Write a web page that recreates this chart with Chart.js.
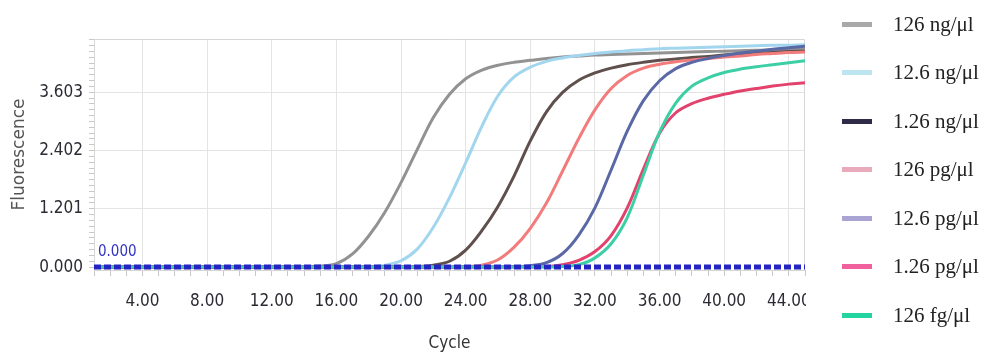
<!DOCTYPE html>
<html><head><meta charset="utf-8">
<script src="https://cdn.jsdelivr.net/npm/chart.js@4.4.1/dist/chart.umd.min.js"></script>
<style>
html,body{margin:0;padding:0;background:#fff;width:994px;height:354px;overflow:hidden;}
#wrap{position:absolute;left:0;top:0;width:806px;height:354px;overflow:hidden;}
#legend{position:absolute;left:0;top:0;width:994px;height:354px;}
.item{position:absolute;left:842px;height:26px;display:flex;align-items:center;font-family:"Liberation Serif","Times New Roman",serif;font-size:21px;color:#222;white-space:nowrap;}
.sw{width:30px;height:5px;margin-right:21px;}
</style></head><body>
<div id="wrap"><canvas id="c" width="830" height="354"></canvas></div>
<div id="legend"></div>
<script>
const cycles = [1,2,3,4,5,6,7,8,9,10,11,12,13,14,15,16,17,18,19,20,21,22,23,24,25,26,27,28,29,30,31,32,33,34,35,36,37,38,39,40,41,42,43,44,45];
const xLabelCycles = [4,8,12,16,20,24,28,32,36,40,44];
const yTickValues = [0, 1.201, 2.402, 3.603];
const thresholdLevel = 0.000;

const seriesNames = ["126 ng/μl","12.6 ng/μl","1.26 ng/μl","126 pg/μl","12.6 pg/μl","1.26 pg/μl","126 fg/μl"];

const s126ng = [0,0,0,0,0,0,0,0,0,0,0,0,0,0.01,0.02,0.07,0.27,0.64,1.13,1.74,2.42,3.08,3.56,3.88,4.06,4.16,4.22,4.26,4.30,4.33,4.35,4.37,4.38,4.39,4.40,4.41,4.42,4.43,4.44,4.45,4.46,4.47,4.47,4.48,4.49];
const s12_6ng = [0,0,0,0,0,0,0,0,0,0,0,0,0,0,0,0,0,0.01,0.04,0.13,0.37,0.82,1.43,2.15,2.90,3.53,3.92,4.12,4.24,4.31,4.36,4.40,4.43,4.46,4.48,4.50,4.51,4.52,4.53,4.54,4.55,4.56,4.57,4.57,4.58];
const s1_26ng = [0,0,0,0,0,0,0,0,0,0,0,0,0,0,0,0,0,0,0,0,0.01,0.04,0.12,0.35,0.75,1.25,1.88,2.60,3.20,3.60,3.85,4.00,4.10,4.17,4.22,4.26,4.29,4.32,4.34,4.37,4.39,4.41,4.42,4.44,4.45];
const s126pg = [0,0,0,0,0,0,0,0,0,0,0,0,0,0,0,0,0,0,0,0,0,0,0,0.01,0.04,0.15,0.41,0.80,1.32,1.98,2.65,3.24,3.68,3.95,4.10,4.18,4.23,4.27,4.30,4.33,4.35,4.38,4.40,4.42,4.43];
const s12_6pg = [0,0,0,0,0,0,0,0,0,0,0,0,0,0,0,0,0,0,0,0,0,0,0,0,0,0,0.01,0.03,0.09,0.28,0.66,1.22,2.00,2.80,3.43,3.84,4.09,4.22,4.30,4.36,4.41,4.45,4.49,4.52,4.55];
const s1_26pg = [0,0,0,0,0,0,0,0,0,0,0,0,0,0,0,0,0,0,0,0,0,0,0,0,0,0,0,0,0.01,0.05,0.14,0.32,0.65,1.22,2.02,2.76,3.18,3.37,3.48,3.56,3.63,3.68,3.73,3.77,3.80];
const s126fg = [0,0,0,0,0,0,0,0,0,0,0,0,0,0,0,0,0,0,0,0,0,0,0,0,0,0,0,0,0,0.01,0.05,0.19,0.48,1.02,1.90,2.78,3.38,3.73,3.90,4.01,4.08,4.13,4.17,4.21,4.25];

const seriesValues = [s126ng, s12_6ng, s1_26ng, s126pg, s12_6pg, s1_26pg, s126fg];
const curveColors = ["#929292","#a2d6ee","#5f504d","#f27c7c","#5a69a6","#e2426c","#3ccfa6"];
const legendColors = ["#a9a9a9","#bde5ef","#2f2a48","#e9abbb","#a9a4d4","#f0609c","#22d4a0"];

// legend (HTML)
const lg = document.getElementById('legend');
seriesNames.forEach((n,i)=>{
  const d = document.createElement('div');
  d.className='item';
  d.style.top = (24 + 48.5*i - 13) + 'px';
  const sw = document.createElement('span'); sw.className='sw'; sw.style.background = legendColors[i];
  const t = document.createElement('span'); t.textContent = n;
  d.appendChild(sw); d.appendChild(t); lg.appendChild(d);
});

const tickFont = "'Liberation Sans Narrow','DejaVu Sans Condensed','Roboto Condensed','DejaVu Sans',sans-serif";

const datasets = seriesValues.map((vals,i)=>({
  label: seriesNames[i],
  data: cycles.map((c,j)=>({x:c, y:vals[j]})),
  borderColor: curveColors[i],
  backgroundColor: curveColors[i],
  borderWidth: 3,
  pointRadius: 0,
  fill: false,
  tension: 0.35,
  order: 10 - i
}));
datasets.push({
  label: 'threshold',
  data: cycles.map(c=>({x:c, y:thresholdLevel})),
  borderColor: '#2424c4',
  borderWidth: 5,
  borderDash: [7,3],
  pointRadius: 0,
  fill: false,
  tension: 0,
  order: 0
});

const isMajorY = v => yTickValues.some(t => Math.abs(t - v) < 1e-6);

const framePlugin = {
  id: 'frame',
  beforeDatasetsDraw(chart){
    const {ctx, chartArea:a} = chart;
    ctx.save();
    ctx.strokeStyle = '#d6d6d6';
    ctx.lineWidth = 1;
    ctx.beginPath();
    ctx.moveTo(a.left, a.top+0.5); ctx.lineTo(a.right-0.5, a.top+0.5); ctx.lineTo(a.right-0.5, a.bottom);
    ctx.stroke();
    ctx.restore();
  },
  afterDatasetsDraw(chart){
    const {ctx, chartArea:a, scales} = chart;
    const y = scales.y.getPixelForValue(thresholdLevel);
    ctx.save();
    ctx.fillStyle = '#3434c0';
    ctx.font = "15px " + tickFont;
    ctx.textBaseline = 'bottom';
    ctx.textAlign = 'left';
    ctx.fillText(thresholdLevel.toFixed(3), a.left + 4, y - 7);
    ctx.restore();
  }
};

new Chart(document.getElementById('c'), {
  type: 'line',
  data: { datasets },
  options: {
    responsive: false,
    animation: false,
    layout: { padding: { top: 39, right: 25, left: 0, bottom: 0 } },
    plugins: { legend: { display: false }, tooltip: { enabled: false } },
    scales: {
      x: {
        type: 'linear', min: 1, max: 45,
        afterBuildTicks: s => { s.ticks = cycles.map(c => ({ value: c })); },
        afterFit: s => { s.height = 84; },
        ticks: {
          autoSkip: false, maxRotation: 0, minRotation: 0, padding: 15,
          color: '#2b2b33', font: { family: tickFont, size: 17 },
          callback: v => xLabelCycles.includes(v) ? v.toFixed(2) : ''
        },
        grid: {
          color: c => (c.tick && xLabelCycles.includes(c.tick.value)) ? '#e4e4e4' : 'rgba(0,0,0,0)',
          tickColor: '#c8c8c8', tickLength: 6, lineWidth: 1
        },
        border: { color: '#d6d6d6' },
        title: { display: true, text: 'Cycle', color: '#333', font: { family: tickFont, size: 17 }, padding: { top: 0, bottom: 0 } }
      },
      y: {
        type: 'linear', min: -0.06, max: 4.7,
        afterBuildTicks: s => { const t = []; for (let k = 0; k <= 39; k++) t.push({ value: +(k * 0.1201).toFixed(4) }); s.ticks = t; },
        afterFit: s => { s.width = 94; },
        ticks: {
          autoSkip: false, padding: 6,
          color: '#2b2b33', font: { family: tickFont, size: 17 },
          callback: v => isMajorY(v) ? v.toFixed(3) : ''
        },
        grid: {
          color: c => (c.tick && isMajorY(c.tick.value) && c.tick.value > 0) ? '#e4e4e4' : 'rgba(0,0,0,0)',
          tickColor: '#c8c8c8', tickLength: 5, lineWidth: 1
        },
        border: { color: '#d6d6d6' },
        title: { display: true, text: 'Fluorescence', color: '#555', font: { family: "'DejaVu Sans',Verdana,sans-serif", size: 17 }, padding: { top: 9, bottom: 0 } }
      }
    }
  },
  plugins: [framePlugin]
});
</script>
</body></html>
